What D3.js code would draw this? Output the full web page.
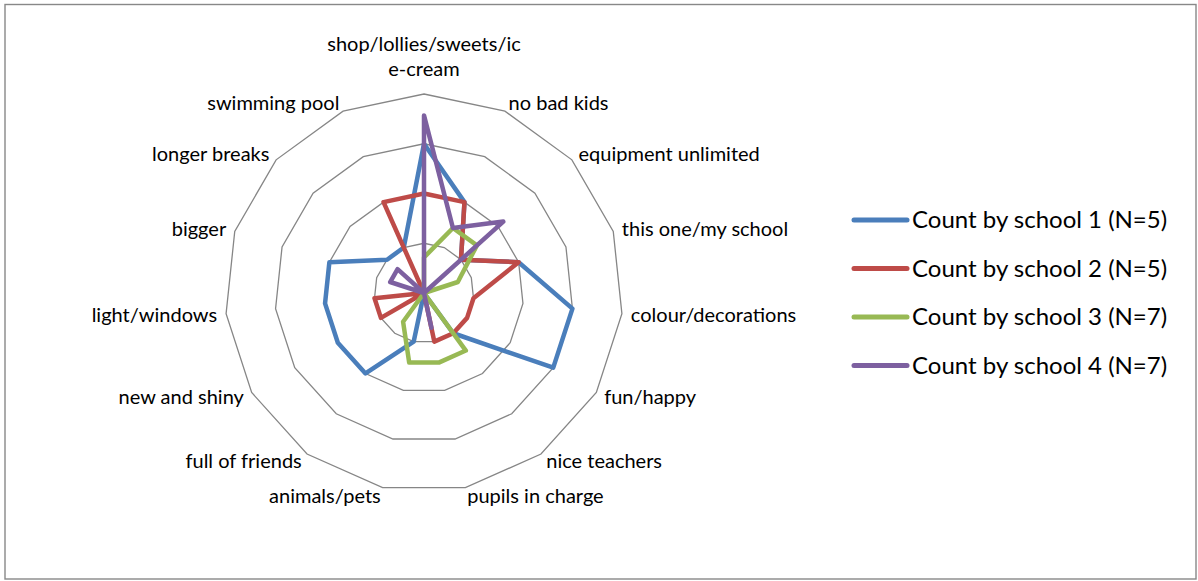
<!DOCTYPE html>
<html>
<head>
<meta charset="utf-8">
<script src="https://cdn.jsdelivr.net/npm/d3@7"></script>
<style>
  body { margin: 0; background: #fff; }
  svg text { font-family: Lato, "Noto Sans", sans-serif; fill: #000; }
</style>
</head>
<body>
<svg id="chart" width="1198" height="581"></svg>
<script>
// categories clockwise from the top
const categories = [
  "shop/lollies/sweets/ice-cream", "no bad kids", "equipment unlimited",
  "this one/my school", "colour/decorations", "fun/happy", "nice teachers",
  "pupils in charge", "animals/pets", "full of friends", "new and shiny",
  "light/windows", "bigger", "longer breaks", "swimming pool"
];

const seriesNames = [
  "Count by school 1 (N=5)", "Count by school 2 (N=5)",
  "Count by school 3 (N=7)", "Count by school 4 (N=7)"
];

const school1 = [0.6, 0.4, 0.2, 0.4, 0.6, 0.6, 0.2, 0, 0.2, 0.4, 0.4, 0.4, 0.4, 0.2, 0.2];
const school2 = [0.4, 0.4, 0.2, 0.4, 0.2, 0.2, 0.2, 0.2, 0, 0, 0.2, 0.2, 0, 0, 0.4];
const school3 = [0.143, 0.286, 0.286, 0.143, 0, 0, 0.286, 0.286, 0.286, 0.143, 0, 0, 0, 0, 0];
const school4 = [0.714, 0.286, 0.429, 0, 0, 0, 0, 0.143, 0, 0, 0, 0, 0.143, 0.143, 0];

const ringTicks = [0.2, 0.4, 0.6, 0.8];
const colors = ["#4A7EBB", "#BE4B48", "#98B954", "#7D60A0"];

const svg = d3.select("#chart");

// outer frame
svg.append("rect")
   .attr("x", 5).attr("y", 4.5)
   .attr("width", 1191).attr("height", 574.5)
   .attr("fill", "none")
   .attr("stroke", "#888")
   .attr("stroke-width", 1.4);

const cx = 424, cy = 293, R = 199;
const n = categories.length;
const angle = d3.scaleLinear().domain([0, n]).range([0, 2 * Math.PI]);
const r = d3.scaleLinear().domain([0, 0.8]).range([0, R]);

const g = svg.append("g").attr("transform", `translate(${cx},${cy})`);

const pt = (i, v) => [Math.sin(angle(i)) * r(v), -Math.cos(angle(i)) * r(v)];

// grid rings
const ring = d3.line().curve(d3.curveLinearClosed);
g.selectAll(".ring")
  .data(ringTicks)
  .enter().append("path")
  .attr("d", t => ring(d3.range(n).map(i => pt(i, t))))
  .attr("fill", "none")
  .attr("stroke", "#868686")
  .attr("stroke-width", 1.3);

// series
const allSeries = [school1, school2, school3, school4];
const line = d3.line().curve(d3.curveLinearClosed);
g.selectAll(".series")
  .data(allSeries)
  .enter().append("path")
  .attr("d", s => line(s.map((v, i) => pt(i, v))))
  .attr("fill", "none")
  .attr("stroke", (d, i) => colors[i])
  .attr("stroke-width", 4.5)
  .attr("stroke-linejoin", "round");

// category labels
const labelR = R + 9;
categories.forEach((c, i) => {
  const a = angle(i);
  const x = Math.sin(a) * labelR, y = -Math.cos(a) * labelR;
  if (i === 0) {
    const t = g.append("text")
      .attr("text-anchor", "middle")
      .style("font-size", "20px");
    t.append("tspan").attr("x", 0).attr("y", y - 34).text("shop/lollies/sweets/ic");
    t.append("tspan").attr("x", 0).attr("y", y - 9).text("e-cream");
  } else {
    g.append("text")
      .attr("x", x)
      .attr("y", y)
      .attr("dy", "0.35em")
      .attr("text-anchor", x > 0 ? "start" : "end")
      .style("font-size", "20px")
      .text(c);
  }
});

// legend
const legendY = d3.scaleLinear().domain([0, 3]).range([220, 365.5]);
const legend = svg.selectAll(".legend")
  .data(seriesNames)
  .enter().append("g")
  .attr("transform", (d, i) => `translate(0,${legendY(i)})`);

legend.append("line")
  .attr("x1", 854).attr("x2", 907)
  .attr("stroke", (d, i) => colors[i])
  .attr("stroke-width", 5)
  .attr("stroke-linecap", "round");

legend.append("text")
  .attr("x", 912)
  .attr("dy", "0.35em")
  .style("font-size", "24px")
  .text(d => d);
</script>
</body>
</html>
